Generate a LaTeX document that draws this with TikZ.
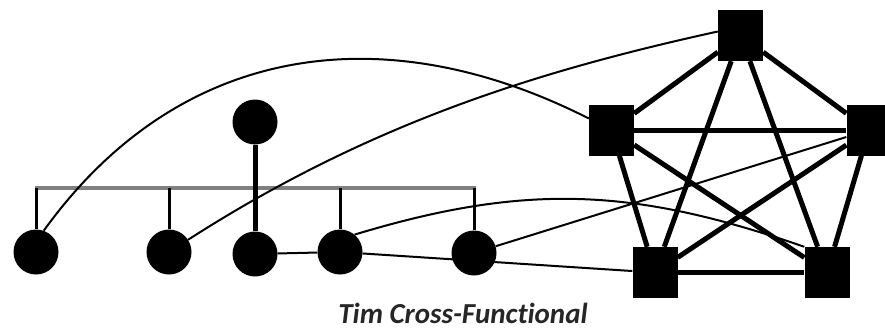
\documentclass[tikz,border=0pt]{standalone}
\usepackage{fontspec}
\newfontfamily\captionfont[Ligatures=NoCommon]{Carlito}

\begin{document}
\begin{tikzpicture}[
    x=1pt, y=-1pt,
    person/.style={circle, fill=black, inner sep=0pt, minimum size=45pt},
    team/.style={rectangle, fill=black, inner sep=0pt, minimum width=45pt, minimum height=51pt},
    link/.style={line width=5pt},
    trunk/.style={line width=5pt},
    bar/.style={line width=4.5pt, draw=black!50},
    drop/.style={line width=3pt},
    tie/.style={line width=2pt},
    caption/.style={font=\captionfont\bfseries\itshape\fontsize{29}{32}\selectfont, text=black!85, inner sep=0pt, anchor=base},
]
    \useasboundingbox (0,0) rectangle (885,329);

    % Hierarchy
    \node[person] (head) at (255,122) {};
    \node[person] (p1) at (36,252) {};
    \node[person] (p2) at (169,252) {};
    \node[person] (p3) at (255,254) {};
    \node[person] (p4) at (340,252) {};
    \node[person] (p5) at (474,253) {};

    % Cross-functional team
    \node[team] (t1) at (740.5,35.5) {};
    \node[team] (t2) at (611.5,130) {};
    \node[team] (t3) at (869,130) {};
    \node[team] (t4) at (655,272.5) {};
    \node[team] (t5) at (827,272.5) {};

    % Org chart lines
    \coordinate (barL) at (34.5,188);
    \coordinate (barR) at (475.5,188);
    \draw[bar] (barL) -- (barR);
    \foreach \n in {p1,p2,p4,p5}
        \draw[drop] (\n) -- (\n |- barL);
    \draw[trunk] (head) -- (p3);

    % Team links
    \foreach \a/\b in {t1/t2,t1/t3,t1/t4,t1/t5,t2/t3,t2/t4,t2/t5,t3/t4,t3/t5,t4/t5}
        \draw[link] (\a) -- (\b);

    % Cross links
    \draw[tie] (p1.70) .. controls (182,39) and (389,17) .. (t2);
    \draw[tie] (p2) .. controls (370,123) and (538,71) .. (t1.170);
    \draw[tie] (p4.50) .. controls (528,182) and (636,188.5) .. (t5.north west);
    \draw[tie] (p5) -- (t3);
    \draw[tie] (p3) -- (p4);
    \draw[tie] (p4) -- (t4);

    % Caption
    \node[caption] (title) at (463,323) {Tim Cross-Functional};
\end{tikzpicture}
\end{document}
